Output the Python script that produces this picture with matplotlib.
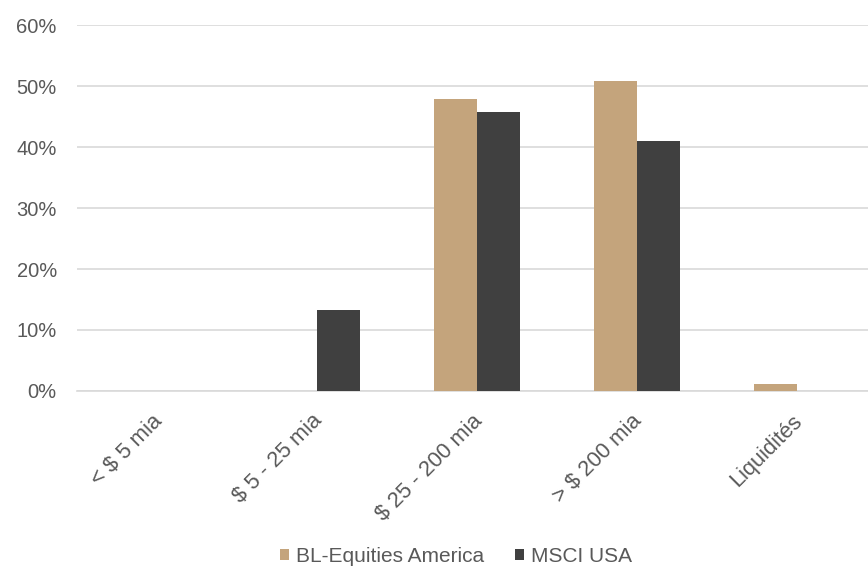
import matplotlib.pyplot as plt
import matplotlib.transforms as mtransforms
import numpy as np
from matplotlib.ticker import FuncFormatter

plt.rcParams['font.family'] = ['Liberation Sans', 'DejaVu Sans']
plt.rcParams['font.size'] = 14.5

# data
categories = ['< $ 5 mia', '$ 5 - 25 mia', '$ 25 - 200 mia', '> $ 200 mia', 'Liquidités']
bl_equities = [0.0, 0.0, 47.9, 50.9, 1.1]
msci_usa = [0.0, 13.2, 45.7, 41.0, 0.0]

fig = plt.figure(figsize=(8.68, 5.74), dpi=100)
# plot area runs a little past the right edge of the image
ax = fig.add_axes([0.0887, 0.319, 0.9217, 0.637])

x = np.arange(len(categories))
w = 0.269
ax.bar(x - w / 2, bl_equities, w, color='#c4a47c', label='BL-Equities America', zorder=3)
ax.bar(x + w / 2, msci_usa, w, color='#404040', label='MSCI USA', zorder=3)

ax.set_xlim(-0.5, len(categories) - 0.5)
ax.set_ylim(0, 60)
ax.set_yticks(np.arange(0, 61, 10))
ax.yaxis.set_major_formatter(FuncFormatter(lambda v, p: f'{v:.0f}%'))
ax.grid(axis='y', color='#d9d9d9', linewidth=1.2, zorder=0)

for s in ['top', 'right', 'left']:
    ax.spines[s].set_visible(False)
ax.spines['bottom'].set_color('#d9d9d9')
ax.spines['bottom'].set_linewidth(1.2)

ax.set_xticks(x)
ax.set_xticklabels(categories, rotation=45, ha='right', rotation_mode='anchor')
ax.tick_params(axis='both', length=0, colors='#595959')
ax.tick_params(axis='x', pad=14, labelsize=15.8)
ax.tick_params(axis='y', pad=14.5, labelsize=14.5)

# nudge rotated labels slightly left
shift = mtransforms.ScaledTranslation(-4 / 72, 0, fig.dpi_scale_trans)
for lbl in ax.get_xticklabels():
    lbl.set_transform(lbl.get_transform() + shift)

fig.legend(loc='center', bbox_to_anchor=(0.525, 0.031), ncol=2, frameon=False,
           fontsize=15, handlelength=0.45, handleheight=0.45, handletextpad=0.3,
           columnspacing=1.5, labelcolor='#595959')

fig.savefig('out.png', dpi=100)
